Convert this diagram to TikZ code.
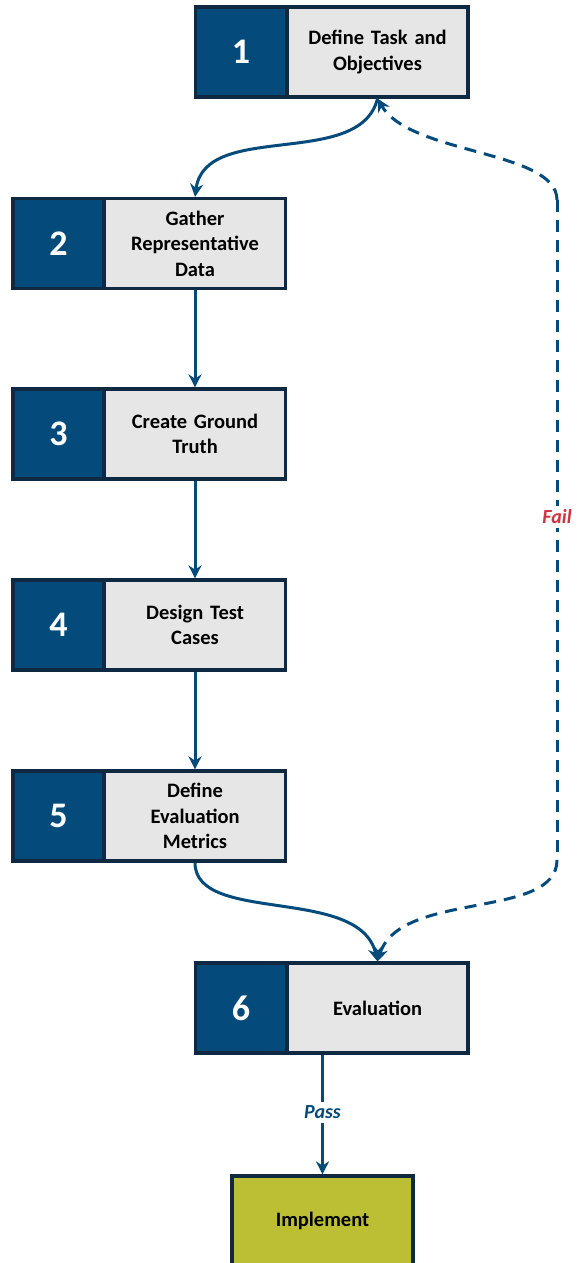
\documentclass[tikz,border=0pt]{standalone}
\usepackage{fontspec}
\setmainfont{Carlito}
\usetikzlibrary{arrows.meta}
\definecolor{navy}{HTML}{044B7B}
\definecolor{edge}{HTML}{0F2942}
\definecolor{panel}{HTML}{E6E6E6}
\definecolor{olive}{HTML}{BCBF33}
\definecolor{failred}{HTML}{D2323F}
\tikzset{
  numbox/.style={draw=edge, line width=3.2pt, fill=navy, minimum width=91pt, minimum height=90pt,
    text=white, font=\bfseries\fontsize{36}{38}\selectfont, inner sep=0pt},
  labelbox/.style={draw=edge, line width=3.2pt, fill=panel, minimum width=181pt, minimum height=90pt,
    text width=176pt, align=center, font=\bfseries\fontsize{20.5}{25.5}\selectfont, inner sep=0pt},
  finalbox/.style={labelbox, fill=olive},
  flow/.style={draw=navy, line width=3pt, -{Stealth[length=13pt,width=13pt]}},
  loop/.style={flow, dash pattern=on 12pt off 8pt},
  tag/.style={fill=white, font=\bfseries\itshape\fontsize{20}{22}\selectfont, inner sep=4pt}
}
\begin{document}
\begin{tikzpicture}[x=1pt,y=-1pt]
\useasboundingbox (0,0) rectangle (576,1263);
\fill[white] (0,0) rectangle (576,1263);

% steps
\node[numbox] (n1) at (241,52) {1};
\node[labelbox] (t1) at (377.5,52) {Define Task and\\Objectives};
\node[numbox] (n2) at (58.5,243.5) {2};
\node[labelbox] (t2) at (195,243.5) {Gather\\Representative\\Data};
\node[numbox] (n3) at (58.5,434) {3};
\node[labelbox] (t3) at (195,434) {Create Ground\\Truth};
\node[numbox] (n4) at (58.5,625) {4};
\node[labelbox] (t4) at (195,625) {Design Test\\Cases};
\node[numbox] (n5) at (58.5,816) {5};
\node[labelbox] (t5) at (195,816) {Define\\Evaluation\\Metrics};
\node[numbox] (n6) at (241,1008) {6};
\node[labelbox] (t6) at (377.5,1008) {Evaluation};
\node[finalbox] (imp) at (322.5,1221) {Implement};

% main flow
\draw[flow] (t1.south) .. controls (360,170) and (205,120) .. (t2.north);
\draw[flow] (t2.south) -- (t3.north);
\draw[flow] (t3.south) -- (t4.north);
\draw[flow] (t4.south) -- (t5.north);
\draw[flow] (t5.south) .. controls (195,925) and (360,885) .. (t6.north);

% pass / fail branches
\coordinate (ftop) at (557,200);
\coordinate (fbot) at (557,860);
\draw[loop] (fbot) .. controls (557,920) and (400,890) .. (t6.north);
\draw[loop] (ftop) .. controls (557,150) and (410,155) .. (t1.south);
\draw[navy, line width=3pt, dash pattern=on 12pt off 8pt] (ftop) -- (fbot)
  node[tag, text=failred, pos=0.48] (fail) {Fail};
\draw[flow] (t6.south -| imp.north) -- (imp.north)
  node[tag, text=navy, pos=0.48] (pass) {Pass};
\end{tikzpicture}
\end{document}
